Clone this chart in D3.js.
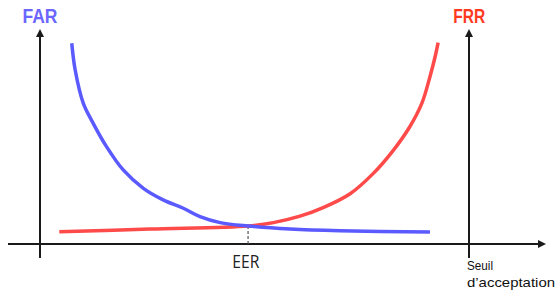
<!DOCTYPE html>
<html>
<head>
<meta charset="utf-8">
<script src="https://cdn.jsdelivr.net/npm/d3@7/dist/d3.min.js"></script>
<style>
html,body{margin:0;padding:0;background:#fff;}
svg{display:block;}
</style>
</head>
<body>
<svg id="chart" width="556" height="294"></svg>
<script>
// threshold (0-100) and rate (0-100)
const farX = [7.4, 8.2, 10.1, 12.4, 15.5, 19.4, 24.1, 28.7, 33.4, 37.3, 42.0, 48.5, 58.3, 69.9, 90.9];
const farY = [93.8, 81.3, 65.7, 56.4, 45.5, 34.6, 26.0, 20.6, 16.7, 12.8, 10.0, 8.4, 7.0, 6.2, 5.6];
const frrX = [4.5, 25.6, 48.5, 54.4, 60.6, 66.0, 72.3, 77.7, 82.4, 86.2, 89.0, 90.9, 92.1, 92.8];
const frrY = [5.7, 7.0, 8.4, 10.0, 13.0, 17.0, 23.5, 33.0, 43.9, 54.8, 65.7, 78.2, 87.5, 94.1];
const eerX = 48.5, eerY = 8.4;
const labels = {far: "FAR", frr: "FRR", eer: "EER", seuil1: "Seuil", seuil2: "d\u2019acceptation"};

const svg = d3.select("#chart");
const x = d3.scaleLinear().domain([0, 100]).range([40, 469]);
const y = d3.scaleLinear().domain([0, 100]).range([244, 30]);

const axisColor = "#1a1a1a";
// horizontal axis
svg.append("line").attr("x1", 8).attr("x2", 540).attr("y1", y(0)).attr("y2", y(0))
  .attr("stroke", axisColor).attr("stroke-width", 2);
svg.append("path").attr("d", `M546,${y(0)} L538,${y(0)-4} L538,${y(0)+4} Z`).attr("fill", axisColor);
// vertical axes
[0, 100].forEach(v => {
  const px = x(v);
  svg.append("line").attr("x1", px).attr("x2", px).attr("y1", 258).attr("y2", 36)
    .attr("stroke", axisColor).attr("stroke-width", 2);
  svg.append("path").attr("d", `M${px},29 L${px-4},37 L${px+4},37 Z`).attr("fill", axisColor);
});

// EER dashed line
svg.append("line").attr("x1", x(eerX)).attr("x2", x(eerX)).attr("y1", y(eerY)).attr("y2", y(0))
  .attr("stroke", "#555").attr("stroke-width", 1.2).attr("stroke-dasharray", "3,2");

const line = d3.line().x(d => x(d[0])).y(d => y(d[1])).curve(d3.curveCatmullRom.alpha(0.5));
svg.append("path").datum(frrX.map((v, i) => [v, frrY[i]]))
  .attr("d", line).attr("fill", "none").attr("stroke", "#ff4a4a").attr("stroke-width", 3.5)
  .attr("stroke-linecap", "butt");
svg.append("path").datum(farX.map((v, i) => [v, farY[i]]))
  .attr("d", line).attr("fill", "none").attr("stroke", "#5a5aff").attr("stroke-width", 3.5)
  .attr("stroke-linecap", "butt");

// labels
svg.append("text").text(labels.far).attr("x", 22.5).attr("y", 22.7)
  .attr("textLength", 35).attr("lengthAdjust", "spacingAndGlyphs")
  .attr("font-family", "Liberation Sans, Arial, sans-serif").attr("font-weight", "bold")
  .attr("font-size", 21).attr("fill", "#6b66ff");
svg.append("text").text(labels.frr).attr("x", 453.3).attr("y", 22.7)
  .attr("textLength", 32).attr("lengthAdjust", "spacingAndGlyphs")
  .attr("font-family", "Liberation Sans, Arial, sans-serif").attr("font-weight", "bold")
  .attr("font-size", 21).attr("fill", "#ff3a1f");
svg.append("text").text(labels.eer).attr("x", 232.3).attr("y", 268.3)
  .attr("textLength", 27).attr("lengthAdjust", "spacingAndGlyphs")
  .attr("font-family", "Open Sans, Liberation Sans, sans-serif")
  .attr("font-size", 19).attr("fill", "#222");
svg.append("text").text(labels.seuil1).attr("x", 467).attr("y", 270)
  .attr("textLength", 26).attr("lengthAdjust", "spacingAndGlyphs")
  .attr("font-family", "Liberation Sans, Arial, sans-serif")
  .attr("font-size", 13).attr("fill", "#111");
svg.append("text").text(labels.seuil2).attr("x", 467).attr("y", 287.3)
  .attr("textLength", 88).attr("lengthAdjust", "spacingAndGlyphs")
  .attr("font-family", "Liberation Sans, Arial, sans-serif")
  .attr("font-size", 13).attr("fill", "#111");
</script>
</body>
</html>
